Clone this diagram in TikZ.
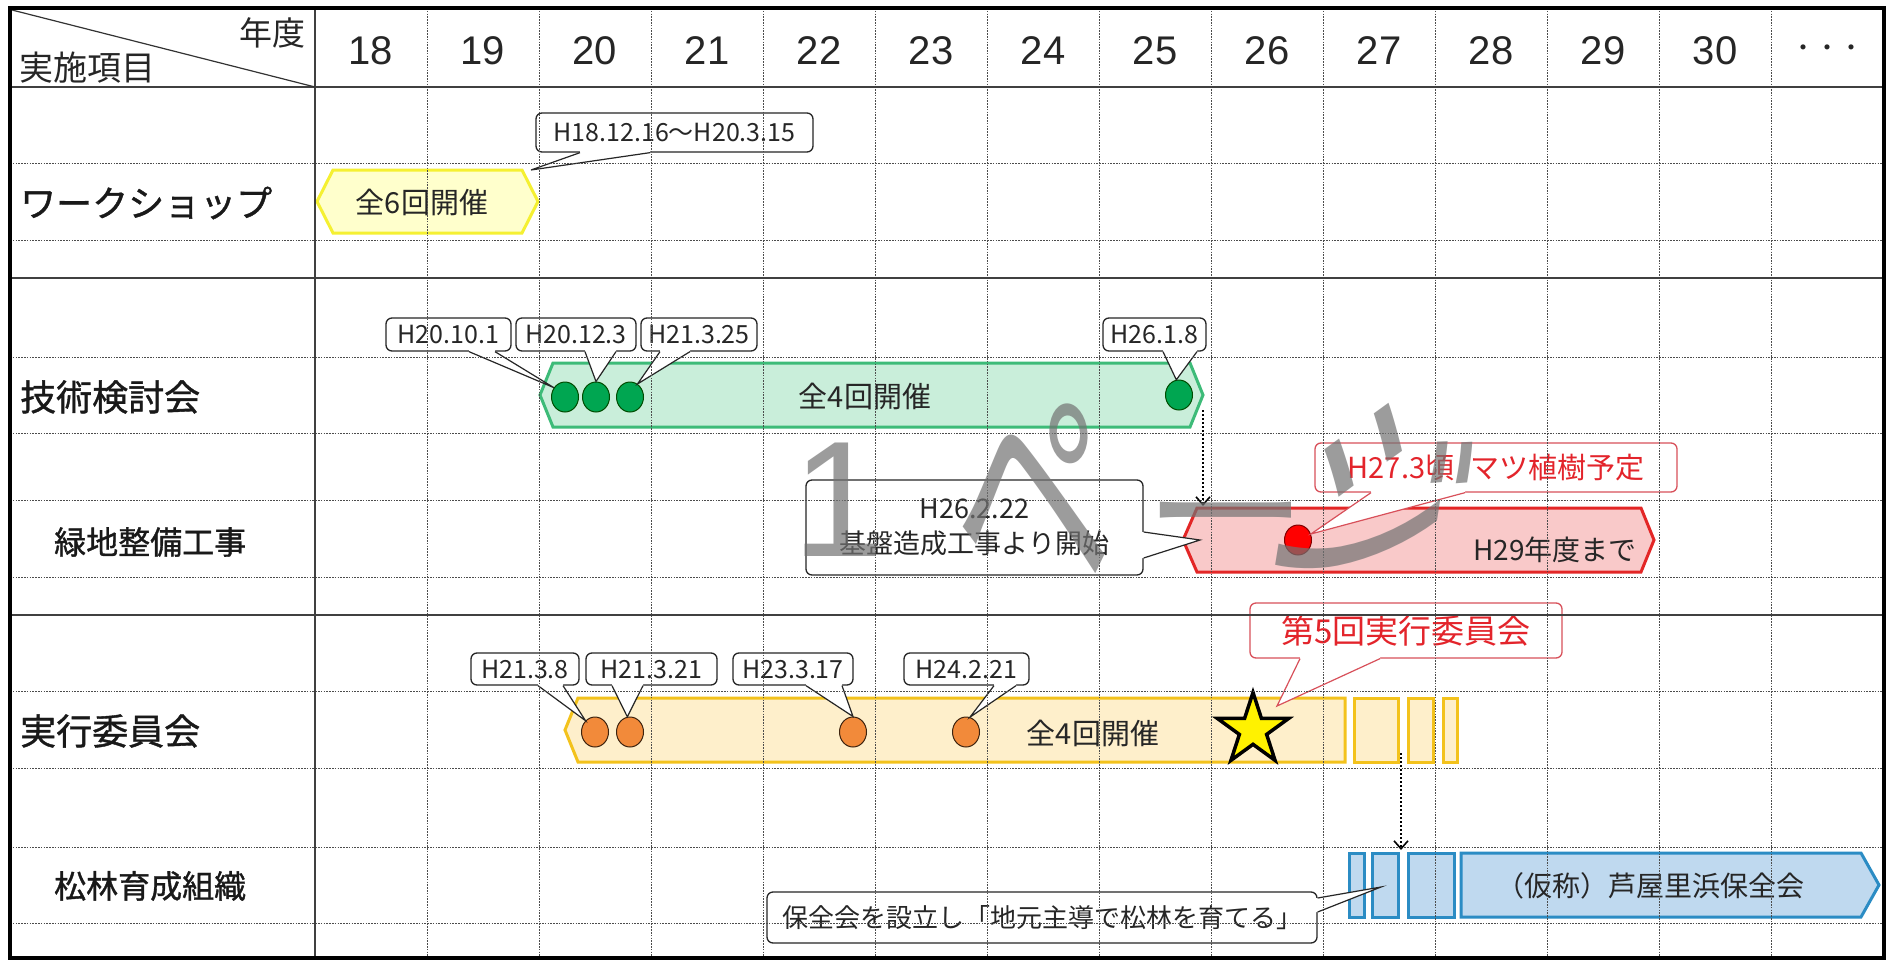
\documentclass[tikz,border=0pt]{standalone}
\usepackage{fontspec}
\usepackage{graphicx}
\setmainfont{Noto Sans CJK JP}
\newfontfamily\latf{Liberation Sans}
\newfontfamily\lblf[FakeBold=1.1]{Noto Sans CJK JP}
\usetikzlibrary{shapes.geometric,arrows.meta,calc}
\definecolor{wsfill}{HTML}{FFFFCC}
\definecolor{wsline}{HTML}{F5F032}
\definecolor{gfill}{HTML}{C9EEDA}
\definecolor{gline}{HTML}{3DBB78}
\definecolor{gdot}{HTML}{00A651}
\definecolor{rfill}{HTML}{F9C9C9}
\definecolor{rline}{HTML}{E32626}
\definecolor{efill}{HTML}{FEEFCB}
\definecolor{eline}{HTML}{F3C21C}
\definecolor{odot}{HTML}{F28A3A}
\definecolor{bfill}{HTML}{BFD9EF}
\definecolor{bline}{HTML}{2B8CC4}
\definecolor{redtxt}{HTML}{E3242B}
\definecolor{redbox}{HTML}{D8505A}
\newcommand\botptr[5][black!85]{%
  \fill[white] ($(#2.south -| #3,0)+(0,-3)$) -- (#2.south -| #3,0) -- (#5) -- (#2.south -| #4,0) -- ($(#2.south -| #4,0)+(0,-3)$) -- cycle;
  \draw[line width=1.2, draw=#1] (#2.south -| #3,0) -- (#5) -- (#2.south -| #4,0);}
\newcommand\rgtptr[5][black!85]{%
  \fill[white] ($(#2.east |- 0,#3)+(-3,0)$) -- (#2.east |- 0,#3) -- (#5) -- (#2.east |- 0,#4) -- ($(#2.east |- 0,#4)+(-3,0)$) -- cycle;
  \draw[line width=1.2, draw=#1] (#2.east |- 0,#3) -- (#5) -- (#2.east |- 0,#4);}
\begin{document}
\begin{tikzpicture}[x=1pt,y=-1pt,
  fs/.style={font=\fontsize{#1}{#1}\selectfont},
  lfs/.style={font=\lblf\fontsize{#1}{#1}\selectfont},
  callout/.style={draw=black!85, line width=1.3, fill=white, rounded corners=6, inner sep=0pt, text=black!85, fs=25},
  redcall/.style={callout, draw=redbox, text=redtxt},
  lbl/.style={anchor=west, inner sep=0pt, text=black!90},
  yr/.style={inner sep=0pt, text=black!85, font=\latf\fontsize{40}{40}\selectfont},
  bartext/.style={inner sep=0pt, text=black!85},
  barline/.style={line width=3, line join=miter},
  gridv/.style={draw=black!70, line width=0.9, dash pattern=on 1.6pt off 1.2pt},
  gridh/.style={draw=black!70, line width=0.9, dash pattern=on 1.6pt off 1.2pt},
  solidl/.style={draw=black!75, line width=1.8},
  dot/.style={ellipse, inner sep=0pt, minimum width=27pt, minimum height=30pt, line width=1},
  darr/.style={line width=2.4, dash pattern=on 2pt off 2pt, -{Straight Barb[length=8pt, width=14pt, line width=1.6pt]}},
  wm/.style={inner sep=0pt, text=black!55, opacity=0.7, fs=165}]
\useasboundingbox (0,0) rectangle (1888,961);
\fill[white] (0,0) rectangle (1888,961);

% ---------- bars ----------
\draw[barline, fill=wsfill, draw=wsline] (317,201.5) -- (333,170) -- (522,170) -- (538,201.5) -- (522,233) -- (333,233) -- cycle;
\draw[barline, fill=gfill, draw=gline] (540,395) -- (553,363) -- (1190,363) -- (1203,395) -- (1190,427) -- (553,427) -- cycle;
\draw[barline, fill=rfill, draw=rline] (1183,540) -- (1197,508) -- (1641,508) -- (1654,540) -- (1641,572) -- (1197,572) -- cycle;
\draw[barline, fill=efill, draw=eline] (565,730) -- (578,698) -- (1345,698) -- (1345,762) -- (578,762) -- cycle;
\draw[barline, fill=efill, draw=eline] (1354,698) rectangle (1398,762);
\draw[barline, fill=efill, draw=eline] (1408,698) rectangle (1433,762);
\draw[barline, fill=efill, draw=eline] (1443,698) rectangle (1457,762);
\draw[barline, fill=bfill, draw=bline] (1349,853) rectangle (1364,917);
\draw[barline, fill=bfill, draw=bline] (1372,853) rectangle (1398,917);
\draw[barline, fill=bfill, draw=bline] (1408,853) rectangle (1454,917);
\draw[barline, fill=bfill, draw=bline] (1461,853) -- (1861,853) -- (1879,885) -- (1861,917) -- (1461,917) -- cycle;

\node[bartext, fs=29] (wsT) at (422,202) {全6回開催};
\node[bartext, fs=29] (gT) at (865,396) {全4回開催};
\node[bartext, fs=28] (rT) at (1555,550) {H29年度まで};
\node[bartext, fs=29] (eT) at (1093,733) {全4回開催};
\node[bartext, fs=28] (bT) at (1650,886) {（仮称）芦屋里浜保全会};

% ---------- dots ----------
\node[dot, fill=gdot, draw=black!70!green] (g1) at (565,397) {};
\node[dot, fill=gdot, draw=black!70!green] (g2) at (596,397) {};
\node[dot, fill=gdot, draw=black!70!green] (g3) at (630,397) {};
\node[dot, fill=gdot, draw=black!70!green] (g4) at (1179,395) {};
\node[dot, fill=red, draw=red!50!black] (rc) at (1298,540) {};
\node[dot, fill=odot, draw=black!75!odot] (o1) at (595,732) {};
\node[dot, fill=odot, draw=black!75!odot] (o2) at (630,732) {};
\node[dot, fill=odot, draw=black!75!odot] (o3) at (853,732) {};
\node[dot, fill=odot, draw=black!75!odot] (o4) at (966,732) {};
\node[star, star points=5, star point ratio=2.618, minimum size=75pt, inner sep=0pt, fill=yellow, draw=black, line width=3.5] (st) at (1253,730) {};

% ---------- callouts ----------
\node[callout, minimum width=277pt, minimum height=39pt] (cws) at (674.5,132.5) {H18.12.16～H20.3.15};
\botptr{cws}{580}{650}{531,170}

\node[callout, minimum width=125pt, minimum height=33pt] (c1) at (448.5,334.5) {H20.10.1};
\node[callout, minimum width=120pt, minimum height=33pt] (c2) at (576,334.5) {H20.12.3};
\node[callout, minimum width=116pt, minimum height=33pt] (c3) at (699,334.5) {H21.3.25};
\node[callout, minimum width=103pt, minimum height=33pt] (c4) at (1154.5,334.5) {H26.1.8};
\botptr{c1}{469}{495}{g1.140}
\botptr{c2}{585}{616}{g2.north}
\botptr{c3}{660}{690}{g3.60}
\botptr{c4}{1163}{1197}{g4.100}

\node[callout, minimum width=108pt, minimum height=32pt] (e1) at (525,669) {H21.3.8};
\node[callout, minimum width=131pt, minimum height=32pt] (e2) at (651.5,669) {H21.3.21};
\node[callout, minimum width=120pt, minimum height=32pt] (e3) at (793,669) {H23.3.17};
\node[callout, minimum width=125pt, minimum height=32pt] (e4) at (966.5,669) {H24.2.21};
\botptr{e1}{538}{563}{o1.130}
\botptr{e2}{612}{643}{o2.100}
\botptr{e3}{806}{842}{o3.north}
\botptr{e4}{994}{1016}{o4.75}

\node[redcall, fs=29, minimum width=362pt, minimum height=49pt] (r1) at (1496,467.5) {H27.3頃\hspace{16pt}マツ植樹予定};
\botptr[redbox]{r1}{1371}{1465}{rc.25}
\coordinate (stp) at (1277,706);
\node[redcall, fs=33, minimum width=312pt, minimum height=55pt] (r2) at (1406,630.5) {第5回実行委員会};
\botptr[redbox]{r2}{1300}{1380}{stp}

\node[callout, align=center, font=\fontsize{27}{35}\selectfont, minimum width=337pt, minimum height=95pt] (b1) at (974.5,527.5) {H26.2.22\\基盤造成工事より開始};
\rgtptr{b1}{532}{558}{1200,540}
\node[callout, fs=26, minimum width=550pt, minimum height=51pt] (b2) at (1042,917.5) {保全会を設立し「地元主導で松林を育てる」};
\coordinate (btip) at (1381,887);
\rgtptr{b2}{898}{912}{btip}

% ---------- grid ----------
\foreach \k in {1,...,13} \draw[gridv] ({315+112*\k},8) -- ({315+112*\k},958);
\foreach \yy in {163,240,357,433,500,577,691,768,847,923} \draw[gridh] (10,\yy) -- (1884,\yy);
\foreach \yy in {87,278,615} \draw[solidl] (10,\yy) -- (1884,\yy);
\draw[solidl] (315,8) -- (315,958);
\draw[black!80, line width=1.2] (12,10) -- (315,87);
\draw[black, line width=4] (10,8) rectangle (1884,958);

% ---------- header ----------
\node[inner sep=0pt, anchor=east, fs=33, text=black!85] (nd) at (306,33) {年度};
\node[inner sep=0pt, anchor=west, fs=34, text=black!85] (sk) at (19,68) {実施項目};
\foreach \t [count=\i from 0] in {18,...,30} \node[yr] (y\t) at ({371+112*\i},51) {\t};
\node[inner sep=0pt, fs=24, text=black!85] (ydots) at (1827,51) {・・・};

% ---------- row labels ----------
\node[lbl, lfs=36] (lws) at (20,203) {ワークショップ};
\node[lbl, lfs=36] (ltk) at (20,397) {技術検討会};
\node[lbl, lfs=32] (lrk) at (54,542) {緑地整備工事};
\node[lbl, lfs=36] (ljk) at (20,731) {実行委員会};
\node[lbl, lfs=32] (lms) at (54,886) {松林育成組織};

% ---------- dotted arrows ----------
\coordinate (gEnd) at (1203,410);
\coordinate (rTop) at (1203,506);
\draw[darr] (gEnd) -- (rTop);
\coordinate (eEnd) at (1401,753);
\coordinate (bTop) at (1401,850);
\draw[darr] (eEnd) -- (bTop);

% ---------- watermark ----------
\node[wm, font=\latf\fontsize{165}{165}\selectfont] (wm1) at (838,500) {1};
\node[wm, rotate=5] (wm2) at (1031,497) {\scalebox{0.95}[1.5]{ペ}};
\node[wm] (wm3) at (1226,538) {ー};
\node[wm, rotate=-30] (wm4) at (1372,502) {\scalebox{1}[1.5]{ジ}};
\end{tikzpicture}
\end{document}
